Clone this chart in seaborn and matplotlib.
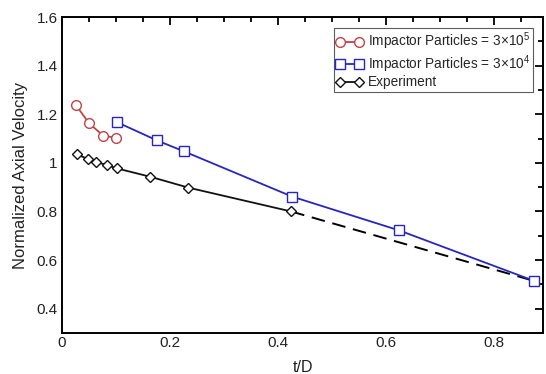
import matplotlib
matplotlib.use("Agg")
import matplotlib.pyplot as plt
import seaborn as sns
import numpy as np
from matplotlib.ticker import MultipleLocator, FuncFormatter

sns.set_theme(style="white")
plt.rcParams['font.family'] = ['Liberation Sans', 'DejaVu Sans']
plt.rcParams['mathtext.default'] = 'regular'

# Data
red_x = [0.026, 0.050, 0.076, 0.100]
red_y = [1.237, 1.163, 1.112, 1.103]

blue_x = [0.102, 0.176, 0.226, 0.426, 0.624, 0.874]
blue_y = [1.167, 1.092, 1.047, 0.861, 0.722, 0.514]

exp_x = [0.027, 0.048, 0.063, 0.084, 0.102, 0.163, 0.234, 0.424]
exp_y = [1.035, 1.016, 1.004, 0.990, 0.977, 0.943, 0.898, 0.800]

dash_x = [0.424, 0.874]
dash_y = [0.800, 0.514]

labels = [r"Impactor Particles = 3$\times$10$^5$",
          r"Impactor Particles = 3$\times$10$^4$",
          "Experiment"]

fig = plt.figure(figsize=(5.46, 3.74), dpi=100)
ax = fig.add_axes([0.1136, 0.1096, 0.8809, 0.8449])

red = "#c04444"
blue = "#2626c0"

sns.lineplot(x=dash_x, y=dash_y, ax=ax, color="black", linestyle=(0, (7, 4)), lw=1.4)
sns.lineplot(x=exp_x, y=exp_y, ax=ax, color="#111111", lw=1.3, marker="D", markersize=5,
             markerfacecolor="white", markeredgecolor="#111111", markeredgewidth=1.0,
             label=labels[2], zorder=3)
sns.lineplot(x=blue_x, y=blue_y, ax=ax, color=blue, lw=1.3, marker="s", markersize=6.5,
             markerfacecolor="white", markeredgecolor=blue, markeredgewidth=1.0,
             label=labels[1], zorder=3)
sns.lineplot(x=red_x, y=red_y, ax=ax, color=red, lw=1.3, marker="o", markersize=7,
             markerfacecolor="white", markeredgecolor=red, markeredgewidth=1.0,
             label=labels[0], zorder=3)

ax.set_xlim(0, 0.89)
ax.set_ylim(0.3, 1.6)
ax.xaxis.set_major_locator(MultipleLocator(0.2))
ax.xaxis.set_minor_locator(MultipleLocator(0.05))
ax.yaxis.set_major_locator(MultipleLocator(0.2))
ax.yaxis.set_minor_locator(MultipleLocator(0.1))
fmt = FuncFormatter(lambda v, p: ("%g" % round(v, 2)))
ax.xaxis.set_major_formatter(fmt)
ax.yaxis.set_major_formatter(fmt)
ax.tick_params(which="both", direction="in", top=True, right=True, colors="black",
               labelcolor="#222222", labelsize=11, width=1.3)
ax.tick_params(which="major", length=6)
ax.tick_params(which="minor", length=3.5)
ax.tick_params(axis="x", which="both", pad=2)
ax.tick_params(axis="y", which="both", pad=3)
for s in ax.spines.values():
    s.set_color("black")
    s.set_linewidth(1.4)

ax.set_xlabel("t/D", fontsize=11.5, color="#222222", labelpad=7)
ax.set_ylabel("Normalized Axial Velocity", fontsize=12, color="#222222", labelpad=6)

h, l = ax.get_legend_handles_labels()
order = [l.index(labels[0]), l.index(labels[1]), l.index(labels[2])]
leg = ax.legend([h[i] for i in order], [l[i] for i in order], loc="upper right",
                bbox_to_anchor=(0.98, 0.965), numpoints=2, handlelength=2.0,
                fontsize=9.8, frameon=True, fancybox=False, borderpad=0.2,
                labelspacing=0.05, handletextpad=0.35, borderaxespad=0)
leg.get_frame().set_edgecolor("#333333")
leg.get_frame().set_linewidth(0.8)

fig.savefig("out.png", dpi=100)
